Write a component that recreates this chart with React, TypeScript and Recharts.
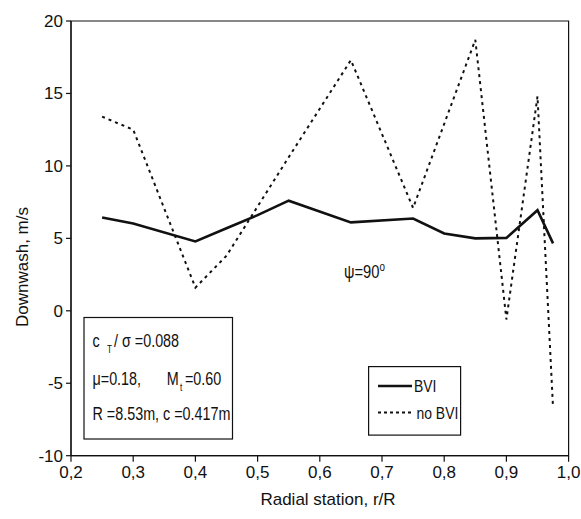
import React from 'react';
import { LineChart, Line, XAxis, YAxis, ReferenceArea, Legend, Customized } from 'recharts';

const bviR = [0.25, 0.3, 0.4, 0.45, 0.5, 0.55, 0.65, 0.75, 0.8, 0.85, 0.9, 0.95, 0.975];
const bviW = [6.44, 6.03, 4.79, 5.7, 6.6, 7.6, 6.1, 6.37, 5.34, 5.0, 5.03, 6.94, 4.65];
const noBviR = [0.25, 0.3, 0.4, 0.45, 0.5, 0.55, 0.65, 0.75, 0.85, 0.9, 0.95, 0.975];
const noBviW = [13.4, 12.5, 1.6, 3.8, 7.2, 10.6, 17.3, 7.1, 18.7, -0.6, 14.8, -6.7];
const xTicks = [0.2, 0.3, 0.4, 0.5, 0.6, 0.7, 0.8, 0.9, 1.0];
const yTicks = [-10, -5, 0, 5, 10, 15, 20];
const seriesNames = ['BVI', 'no BVI'];
const xTitle = 'Radial station, r/R';
const yTitle = 'Downwash, m/s';

const bviData = bviR.map((r, i) => ({ r, w: bviW[i] }));
const noBviData = noBviR.map((r, i) => ({ r, w: noBviW[i] }));

const FONT = "'Liberation Sans', Arial, sans-serif";
const SX = 0.82;

const NText = ({ x, y, size, children }: { x: number; y: number; size: number; children: React.ReactNode }) => (
  <text transform={`translate(${x} ${y}) scale(${SX} 1)`} x={0} y={0} fontSize={size} fontFamily={FONT} fill="#111">
    {children}
  </text>
);

const Annotations = () => (
  <g fontFamily={FONT} fill="#111">
    <text x={328} y={505} textAnchor="middle" fontSize={17} fill="#111">{xTitle}</text>
    <text x={28} y={267} textAnchor="middle" fontSize={17} fill="#111" transform="rotate(-90 28 267)">{yTitle}</text>
    <NText x={344} y={278} size={18}>
      <tspan>ψ=90</tspan>
      <tspan dy={-7} fontSize={12}>o</tspan>
    </NText>
    <rect x={84} y={317.5} width={148.5} height={121.5} fill="white" stroke="#111" strokeWidth={1.2} />
    <NText x={92.5} y={347} size={17.5}>
      <tspan x={0}>c</tspan>
      <tspan x={17.7} dy={6} fontSize={10}>T</tspan>
      <tspan x={26.2} dy={-6}>/ σ =0.088</tspan>
    </NText>
    <NText x={92.5} y={384.5} size={17.5}>
      <tspan x={0}>μ=0.18,</tspan>
      <tspan x={90.5}>M</tspan>
      <tspan x={106.7} dy={6} fontSize={10}>t</tspan>
      <tspan x={112.8} dy={-6}>=0.60</tspan>
    </NText>
    <NText x={92.5} y={420} size={17.5}>R =8.53m, c =0.417m</NText>
  </g>
);

const LegendBox = () => (
  <svg width={94} height={70} style={{ display: 'block', overflow: 'visible' }}>
    <rect x={0.6} y={0.6} width={92} height={68.5} fill="white" stroke="#111" strokeWidth={1.2} />
    <line x1={10} y1={20} x2={44} y2={20} stroke="#111" strokeWidth={2.5} />
    <NText x={46} y={26} size={17}>{seriesNames[0]}</NText>
    <line x1={10} y1={46.5} x2={44} y2={46.5} stroke="#111" strokeWidth={2} strokeDasharray="3 3" />
    <NText x={48.5} y={52.5} size={17}>{seriesNames[1]}</NText>
  </svg>
);

export default function App() {
  return (
    <div style={{ position: 'absolute', left: 0, top: 0, width: 581, height: 519, background: 'white' }}>
      <LineChart width={581} height={519} margin={{ top: 21, right: 12.4, bottom: 33.3, left: 21 }}>
        <XAxis
          type="number"
          dataKey="r"
          domain={[0.2, 1.0]}
          ticks={xTicks}
          allowDataOverflow
          height={30}
          tickSize={6}
          tickMargin={4}
          tickFormatter={(v: number) => v.toFixed(1).replace('.', ',')}
          tick={{ fontSize: 17, fontFamily: FONT, fill: '#111' }}
          axisLine={{ stroke: '#111', strokeWidth: 1.2 }}
          tickLine={{ stroke: '#111', strokeWidth: 1.2 }}
        />
        <YAxis
          type="number"
          dataKey="w"
          domain={[-10, 20]}
          ticks={yTicks}
          allowDataOverflow
          width={50}
          tickSize={5}
          tickMargin={3}
          tick={{ fontSize: 17, fontFamily: FONT, fill: '#111' }}
          axisLine={{ stroke: '#111', strokeWidth: 1.2 }}
          tickLine={{ stroke: '#111', strokeWidth: 1.2 }}
        />
        <ReferenceArea x1={0.2} x2={1.0} y1={-10} y2={20} fill="none" stroke="#111" strokeWidth={1.2} ifOverflow="visible" />
        <Customized component={Annotations} />
        <Line data={noBviData} dataKey="w" name={seriesNames[1]} stroke="#111" strokeWidth={2} strokeDasharray="3 4" dot={false} isAnimationActive={false} type="linear" />
        <Line data={bviData} dataKey="w" name={seriesNames[0]} stroke="#111" strokeWidth={2.6} dot={false} isAnimationActive={false} type="linear" />
        <Legend
          content={() => <LegendBox />}
          wrapperStyle={{ position: 'absolute', left: 368, top: 366, width: 94, height: 0, overflow: 'visible' }}
        />
      </LineChart>
    </div>
  );
}
